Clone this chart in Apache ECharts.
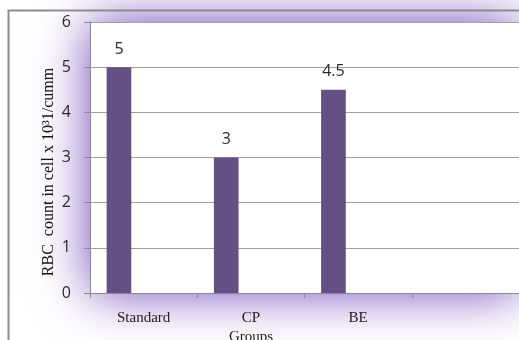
<!DOCTYPE html>
<html>
<head>
<meta charset="utf-8">
<script src="https://cdn.jsdelivr.net/npm/echarts@6/dist/echarts.min.js"></script>
<style>
  html,body{margin:0;padding:0;background:#fff}
  #chart{width:519px;height:340px}
</style>
</head>
<body>
<div id="chart"></div>
<script>
// 数据:分组、RBC 数值(第四组为空列,Excel 原图里留白)
const groups = ['Standard', 'CP', 'BE', '']
const rbc = [5, 3, 4.5, null]
const yTicks = { min: 0, max: 6, step: 1 }
const yTitle = 'RBC  count in cell x 10³1/cumm'
const xTitle = 'Groups'

const BAR = '#664f84'
const SANS = '"Open Sans", "Noto Sans", sans-serif'
const SERIF = '"Liberation Serif", "DejaVu Serif", serif'

const c = echarts.init(document.getElementById('chart'))

// 原图是 3 个系列槽位,只有第一个有值 —— 空系列占位让柱子偏左
const empty = groups.map(() => null)

c.setOption({
  animation: false,
  backgroundColor: '#fff',
  grid: {
    left: 90, top: 22, right: -5, bottom: 47,
    show: true, backgroundColor: '#fff', borderWidth: 0,
    shadowColor: 'rgba(115,70,185,1)', shadowBlur: 50
  },
  xAxis: {
    type: 'category', data: groups,
    axisLine: { lineStyle: { color: '#8a8a8a', width: 1 } },
    axisTick: { show: true, length: 5, lineStyle: { color: '#8a8a8a' } },
    axisLabel: { color: '#222', fontFamily: SERIF, fontSize: 15, margin: 18 }
  },
  yAxis: {
    type: 'value', min: yTicks.min, max: yTicks.max, interval: yTicks.step,
    axisLine: { show: true, lineStyle: { color: '#8a8a8a', width: 1 } },
    axisTick: { show: true, length: 6, lineStyle: { color: '#8a8a8a' } },
    axisLabel: { color: '#2a2a2a', fontFamily: SANS, fontSize: 16, margin: 19 },
    splitLine: { lineStyle: { color: '#a0a0a0', width: 1 } }
  },
  series: [
    { type: 'bar', name: 'RBC', data: rbc, barGap: '0%', barCategoryGap: '31%',
      itemStyle: { color: BAR },
      label: { show: true, position: 'top', distance: 10, color: '#2a2a2a',
               fontFamily: SANS, fontSize: 16 } },
    { type: 'bar', name: 's2', data: empty, itemStyle: { color: BAR } },
    { type: 'bar', name: 's3', data: empty, itemStyle: { color: BAR } }
  ],
  graphic: [
    { type: 'rect', z: 100, silent: true,
      shape: { x: 8.5, y: 10.5, width: 600, height: 400 },
      style: { fill: 'none', stroke: '#8c8c8c', lineWidth: 2 } },
    { type: 'text', z: 100, x: 49, y: 172, rotation: Math.PI / 2,
      style: { text: yTitle, font: '16px ' + SERIF, fill: '#111',
               textAlign: 'center', textVerticalAlign: 'middle' } },
    { type: 'text', z: 100, x: 251, y: 337,
      style: { text: xTitle, font: '15px ' + SERIF, fill: '#222',
               textAlign: 'center', textVerticalAlign: 'middle' } }
  ]
})
</script>
</body>
</html>
